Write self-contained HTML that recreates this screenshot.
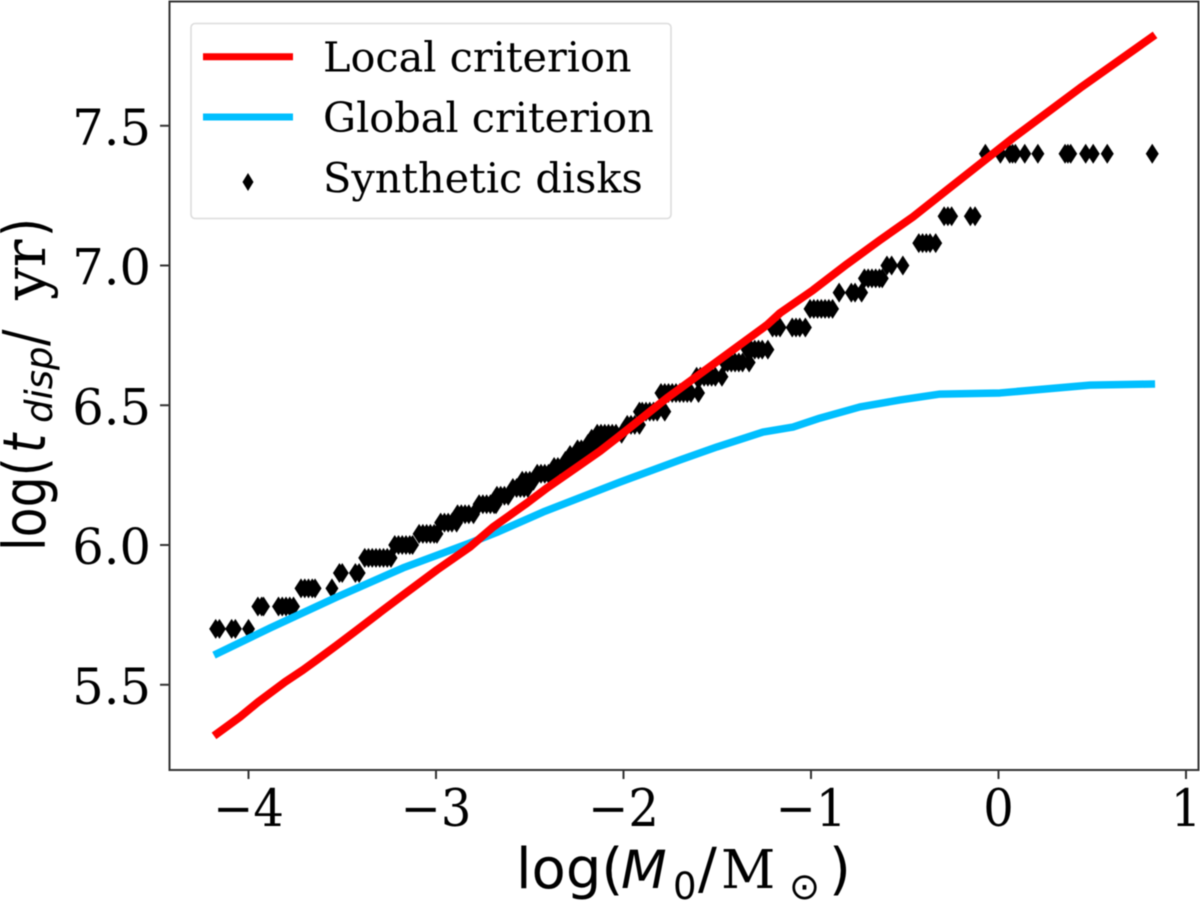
<!DOCTYPE html>
<html>
<head>
<meta charset="utf-8">
<title>Disk dispersal time versus initial mass</title>
<style>
html,body{margin:0;padding:0;background:#fff;}
svg{display:block;filter:blur(0.5px);}
text{fill:#000;}
.serif{font-family:"DejaVu Serif","Liberation Serif",serif;}
.sans{font-family:"DejaVu Sans","Liberation Sans",sans-serif;}
</style>
</head>
<body>
<svg id="chart" xmlns="http://www.w3.org/2000/svg" width="1200" height="902" viewBox="0 0 1200 902">
  <rect x="169" y="1" width="1030" height="769" fill="#fff"/>
  <g id="series-layer"></g>
  <g id="axis-layer"></g>
  <rect x="169.5" y="1.5" width="1029" height="768.5" fill="none" stroke="#333" stroke-width="2"/>

  <g>
    <rect x="191" y="23.5" width="480" height="195" rx="4" ry="4" fill="#fff" stroke="#dcdcdc" stroke-width="1.6"/>
    <line x1="203" y1="56.7" x2="293" y2="56.7" stroke="#ff0000" stroke-width="7"/>
    <text class="serif" x="323" y="71.7" font-size="41.4">Local criterion</text>
    <line x1="203" y1="117" x2="293" y2="117" stroke="#00bfff" stroke-width="7"/>
    <text class="serif" x="323" y="132" font-size="41.4">Global criterion</text>
    <polygon points="248,173 253.5,182 248,191 242.5,182" fill="#000"/>
    <text class="serif" x="323" y="192.7" font-size="41.4">Synthetic disks</text>
  </g>

  <g>
    <text class="sans" x="516" y="888" font-size="56">log(</text>
    <text class="sans" x="621" y="888" font-size="53" font-style="italic">M</text>
    <text class="sans" x="673" y="899" font-size="37">0</text>
    <text class="sans" x="698" y="888" font-size="56">/</text>
    <text class="serif" x="721" y="888" font-size="53">M</text>
    <text class="sans" x="789" y="899" font-size="37">⊙</text>
    <text class="sans" x="829" y="888" font-size="56">)</text>
  </g>

  <g transform="translate(45,551) rotate(-90)">
    <text class="sans" transform="scale(1,1.2)" x="0" y="0" font-size="49">log(</text>
    <text class="sans" transform="translate(98,0) scale(1,1.2)" x="0" y="0" font-size="49" font-style="italic">t</text>
    <text class="sans" transform="translate(128,7)" x="0" y="0" font-size="37" font-style="italic">disp</text>
    <text class="sans" transform="translate(205,0) scale(1,1.2)" x="0" y="0" font-size="49">/</text>
    <text class="serif" x="251" y="0" font-size="58">yr</text>
    <text class="sans" transform="translate(314,0) scale(1,1.2)" x="0" y="0" font-size="49">)</text>
  </g>
</svg>

<script>
var xTickValues = [-4, -3, -2, -1, 0, 1];
var xTickLabels = ["\u22124", "\u22123", "\u22122", "\u22121", "0", "1"];
var yTickValues = [5.5, 6.0, 6.5, 7.0, 7.5];
var yTickLabels = ["5.5", "6.0", "6.5", "7.0", "7.5"];

var localLogMass = [-4.184,-4.045,-3.949,-3.805,-3.709,-3.635,-3.528,-3.421,-3.283,-3.176,-2.995,-2.819,-2.696,-2.515,-2.408,-2.232,-2.125,-2.035,-1.949,-1.768,-1.592,-1.416,-1.235,-1.165,-0.989,-0.808,-0.632,-0.456,-0.275,-0.099,0.077,0.435,0.835];
var localLogTime = [5.317,5.385,5.438,5.510,5.553,5.589,5.642,5.696,5.767,5.821,5.911,5.993,6.064,6.150,6.204,6.286,6.336,6.383,6.429,6.526,6.612,6.698,6.787,6.830,6.912,7.005,7.091,7.174,7.270,7.363,7.456,7.635,7.825];

var globalLogMass = [-4.184,-3.885,-3.528,-3.176,-2.819,-2.669,-2.429,-2.019,-1.699,-1.501,-1.256,-1.096,-0.952,-0.739,-0.525,-0.312,0.008,0.488,0.835];
var globalLogTime = [5.606,5.703,5.814,5.918,6.007,6.047,6.118,6.225,6.304,6.351,6.404,6.422,6.454,6.494,6.519,6.540,6.544,6.572,6.576];

var diskTimeLevels = [5.70,5.78,5.845,5.90,5.954,6.0,6.04,6.08,6.11,6.146,6.176,6.204,6.23,6.255,6.279,6.301,6.322,6.342,6.362,6.38,6.398,6.43,6.477,6.544,6.602,6.653,6.699,6.778,6.845,6.903,6.954,7.0,7.08,7.176,7.4];
var diskMassesByLevel = [
[-4.175,-4.155,-4.09,-4.07,-4.00],
[-3.95,-3.93,-3.92,-3.84,-3.82,-3.80,-3.78,-3.76],
[-3.72,-3.70,-3.68,-3.66,-3.645,-3.555],
[-3.515,-3.50,-3.43,-3.41],
[-3.38,-3.36,-3.34,-3.32,-3.30,-3.28,-3.26,-3.24],
[-3.22,-3.20,-3.18,-3.16,-3.14,-3.125],
[-3.09,-3.07,-3.05,-3.03,-3.01,-2.995],
[-2.975,-2.955,-2.935,-2.915,-2.89],
[-2.885,-2.865,-2.845,-2.825,-2.80],
[-2.77,-2.75,-2.73,-2.71,-2.69,-2.68],
[-2.675,-2.655,-2.635,-2.615],
[-2.59,-2.57,-2.55,-2.53,-2.51],
[-2.54,-2.52,-2.50,-2.48],
[-2.46,-2.44,-2.42,-2.40,-2.38],
[-2.37,-2.35,-2.33,-2.31,-2.29],
[-2.31,-2.27,-2.25],
[-2.285,-2.25,-2.23],
[-2.245,-2.225,-2.20,-2.17],
[-2.19,-2.16,-2.14],
[-2.17,-2.135,-2.11],
[-2.14,-2.12,-2.10,-2.08,-2.06,-2.04,-2.01],
[-1.98,-1.96,-1.94,-1.915],
[-1.915,-1.90,-1.88,-1.86,-1.84,-1.82,-1.78],
[-1.80,-1.78,-1.76,-1.74,-1.72,-1.70,-1.68,-1.66,-1.64,-1.60],
[-1.61,-1.59,-1.57,-1.55,-1.53,-1.51,-1.475],
[-1.46,-1.445,-1.425,-1.405,-1.385,-1.365,-1.33],
[-1.34,-1.32,-1.30,-1.28,-1.26,-1.23],
[-1.205,-1.185,-1.165,-1.10,-1.08,-1.06,-1.03],
[-1.005,-0.985,-0.965,-0.945,-0.925,-0.905,-0.885],
[-0.85,-0.785,-0.765,-0.73],
[-0.715,-0.695,-0.675,-0.655,-0.635,-0.62],
[-0.595,-0.57,-0.51],
[-0.425,-0.405,-0.385,-0.365,-0.335],
[-0.29,-0.27,-0.25,-0.15,-0.125],
[-0.07,0.01,0.06,0.075,0.09,0.14,0.21,0.355,0.37,0.385,0.465,0.505,0.58,0.82]
];

var SVG_NS = "http://www.w3.org/2000/svg";
function xScale(v) { return 998.5 + 187.5 * v; }
function yScale(v) { return 545 - 279.5 * (v - 6); }

var seriesLayer = document.getElementById("series-layer");
var axisLayer = document.getElementById("axis-layer");

function buildPath(xs, ys) {
  var d = "";
  for (var i = 0; i < xs.length; i++) {
    d += (i === 0 ? "M" : "L") + xScale(xs[i]).toFixed(2) + " " + yScale(ys[i]).toFixed(2);
  }
  return d;
}

var markerGroup = document.createElementNS(SVG_NS, "g");


seriesLayer.appendChild(markerGroup);

for (var lv = 0; lv < diskTimeLevels.length; lv++) {
  var masses = diskMassesByLevel[lv];
  for (var i = 0; i < masses.length; i++) {
    var cx = xScale(masses[i]);
    var cy = yScale(diskTimeLevels[lv]);
    var diamond = document.createElementNS(SVG_NS, "polygon");
    diamond.setAttribute("points", cx + "," + (cy - 10) + " " + (cx + 6.5) + "," + cy + " " + cx + "," + (cy + 10) + " " + (cx - 6.5) + "," + cy);
    diamond.setAttribute("fill", "#000");
    
    
    markerGroup.appendChild(diamond);
  }
}

var globalLine = document.createElementNS(SVG_NS, "path");
globalLine.setAttribute("d", buildPath(globalLogMass, globalLogTime));
globalLine.setAttribute("fill", "none");
globalLine.setAttribute("stroke", "#00bfff");
globalLine.setAttribute("stroke-width", "7.5");
globalLine.setAttribute("stroke-linejoin", "round");


seriesLayer.appendChild(globalLine);

var localLine = document.createElementNS(SVG_NS, "path");
localLine.setAttribute("d", buildPath(localLogMass, localLogTime));
localLine.setAttribute("fill", "none");
localLine.setAttribute("stroke", "#ff0000");
localLine.setAttribute("stroke-width", "8");
localLine.setAttribute("stroke-linejoin", "round");


seriesLayer.appendChild(localLine);

for (var j = 0; j < xTickValues.length; j++) {
  var xp = xScale(xTickValues[j]);
  var xTick = document.createElementNS(SVG_NS, "line");
  xTick.setAttribute("x1", xp);
  xTick.setAttribute("x2", xp);
  xTick.setAttribute("y1", 770);
  xTick.setAttribute("y2", 779);
  xTick.setAttribute("stroke", "#333");
  xTick.setAttribute("stroke-width", "2");
  
  
  axisLayer.appendChild(xTick);

  var xLabel = document.createElementNS(SVG_NS, "text");
  xLabel.setAttribute("transform", "translate(" + xp + ",826) scale(1,1.08)");
  xLabel.setAttribute("text-anchor", "middle");
  xLabel.setAttribute("font-size", "48");
  xLabel.setAttribute("class", "serif");
  xLabel.textContent = xTickLabels[j];
  
  
  axisLayer.appendChild(xLabel);
}

for (var k = 0; k < yTickValues.length; k++) {
  var yp = yScale(yTickValues[k]);
  var yTick = document.createElementNS(SVG_NS, "line");
  yTick.setAttribute("x1", 160);
  yTick.setAttribute("x2", 169);
  yTick.setAttribute("y1", yp);
  yTick.setAttribute("y2", yp);
  yTick.setAttribute("stroke", "#333");
  yTick.setAttribute("stroke-width", "2");
  
  
  axisLayer.appendChild(yTick);

  var yLabel = document.createElementNS(SVG_NS, "text");
  yLabel.setAttribute("x", 151);
  yLabel.setAttribute("y", yp + 19);
  yLabel.setAttribute("text-anchor", "end");
  yLabel.setAttribute("font-size", "49.5");
  yLabel.setAttribute("class", "serif");
  yLabel.textContent = yTickLabels[k];
  
  
  axisLayer.appendChild(yLabel);
}
</script>
</body>
</html>
